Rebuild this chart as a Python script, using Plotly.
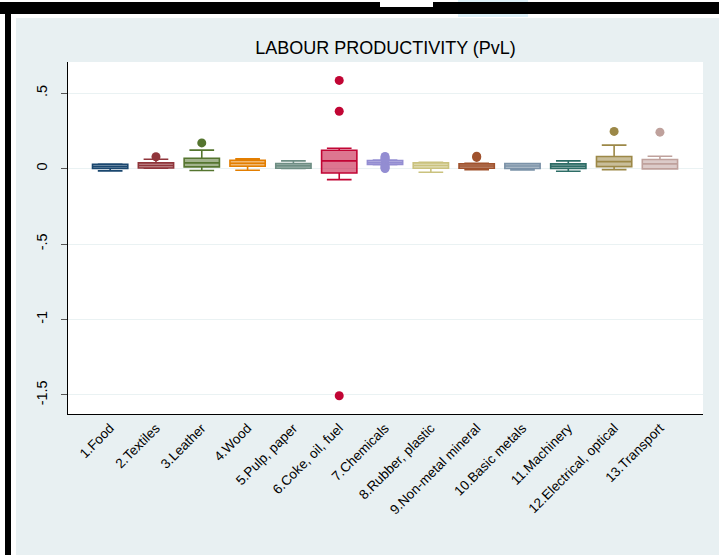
import plotly.graph_objects as go

categories = ["1.Food", "2.Textiles", "3.Leather", "4.Wood", "5.Pulp, paper",
              "6.Coke, oil, fuel", "7.Chemicals", "8.Rubber, plastic",
              "9.Non-metal mineral", "10.Basic metals", "11.Machinery",
              "12.Electrical, optical", "13.Transport"]
colors = ["#1a476f", "#90353b", "#55752f", "#e37e00", "#6e8e84", "#c10534",
          "#938dd2", "#cac27e", "#a0522d", "#7b92a8", "#2d6d66", "#9c8847", "#bfa19c"]
q1 = [0.000, 0.004, 0.011, 0.015, 0.002, -0.029, 0.028, 0.002, 0.002, 0.000, 0.000, 0.013, -0.002]
median = [0.014, 0.020, 0.038, 0.035, 0.018, 0.051, 0.040, 0.020, 0.017, 0.017, 0.015, 0.046, 0.031]
q3 = [0.029, 0.038, 0.068, 0.055, 0.033, 0.121, 0.053, 0.038, 0.031, 0.033, 0.031, 0.080, 0.060]
lower = [-0.015, 0.002, -0.013, -0.011, 0.000, -0.073, 0.025, -0.024, -0.007, -0.009, -0.018, -0.007, -0.002]
upper = [0.030, 0.062, 0.122, 0.064, 0.051, 0.135, 0.056, 0.042, 0.035, 0.033, 0.051, 0.155, 0.082]
outliers = [[], [0.078], [0.170], [], [], [0.584, 0.380, -1.505],
            [0.080, 0.072, 0.064, 0.058, 0.020, 0.012, 0.005, 0.0],
            [], [0.082, 0.074], [], [], [0.246], [0.241]]

ytick_vals = [0.5, 0, -0.5, -1, -1.5]
ytick_text = [".5", "0", "-.5", "-1", "-1.5"]
title = "LABOUR PRODUCTIVITY (PvL)"

# layout geometry (pixels)
W, H = 719, 555
L, R, T, B = 68, 703, 62, 414


def px(x):
    return (x - L) / (R - L)


def py(y):
    return (B - y) / (B - T)


def rgba(hexc, a):
    h = hexc.lstrip("#")
    return "rgba(%d,%d,%d,%.2f)" % (int(h[0:2], 16), int(h[2:4], 16), int(h[4:6], 16), a)


fig = go.Figure()
for i, c in enumerate(categories):
    fig.add_trace(go.Box(
        x=[c], q1=[q1[i]], median=[median[i]], q3=[q3[i]],
        lowerfence=[lower[i]], upperfence=[upper[i]],
        line=dict(color=colors[i], width=1.6),
        fillcolor=rgba(colors[i], 0.55),
        width=0.77, whiskerwidth=0.7, boxpoints=False,
        showlegend=False, name=c,
    ))
    if outliers[i]:
        fig.add_trace(go.Scatter(
            x=[c] * len(outliers[i]), y=outliers[i], mode="markers",
            marker=dict(color=colors[i], size=9),
            showlegend=False, name=c,
        ))

bg = "#E8F0F2"
shapes = [
    dict(type="rect", xref="paper", yref="paper", x0=px(458), x1=px(528), y0=py(17), y1=py(0),
         fillcolor="#DDF1F9", line=dict(width=0), layer="below"),
    dict(type="rect", xref="paper", yref="paper", x0=px(16), x1=px(719), y0=py(555), y1=py(18),
         fillcolor=bg, line=dict(width=0), layer="below"),
    dict(type="rect", xref="paper", yref="paper", x0=px(L), x1=px(R), y0=py(B), y1=py(T),
         fillcolor="white", line=dict(width=0), layer="below"),
    dict(type="rect", xref="paper", yref="paper", x0=px(0), x1=px(719), y0=py(14), y1=py(2),
         fillcolor="black", line=dict(width=0), layer="below"),
    dict(type="rect", xref="paper", yref="paper", x0=px(380), x1=px(433), y0=py(7), y1=py(-2),
         fillcolor="white", line=dict(width=0), layer="below"),
    dict(type="rect", xref="paper", yref="paper", x0=px(5), x1=px(11), y0=py(556), y1=py(2),
         fillcolor="black", line=dict(width=0), layer="below"),
]

fig.update_layout(
    width=W, height=H,
    margin=dict(l=L, r=W - R, t=T, b=H - B, pad=0),
    paper_bgcolor="white", plot_bgcolor="rgba(0,0,0,0)",
    boxmode="overlay",
    font=dict(family="Liberation Sans, Arial, sans-serif", color="black"),
    title=dict(text=title, xref="paper", x=0.5, xanchor="center", y=1 - 48 / H, yanchor="middle",
               font=dict(size=18, color="black")),
    shapes=shapes,
    xaxis=dict(
        type="category", categoryorder="array", categoryarray=categories,
        range=[-0.92, 12.94], showgrid=False, zeroline=False,
        showline=True, linecolor="black", linewidth=1,
        ticks="", tickangle=-45, tickfont=dict(size=13.5),
    ),
    yaxis=dict(
        range=[-1.626, 0.706], tickmode="array", tickvals=ytick_vals, ticktext=ytick_text,
        showgrid=True, gridcolor="#EAF2F3", gridwidth=1.2, zeroline=False,
        showline=True, linecolor="black", linewidth=1,
        ticks="outside", ticklen=6, tickcolor="#555555", tickangle=-90,
        ticklabelstandoff=8, tickfont=dict(size=14.5),
    ),
)

fig.write_html("out.html", config={"displayModeBar": False},
               post_script="document.body.style.margin='0';document.body.style.padding='0';")
